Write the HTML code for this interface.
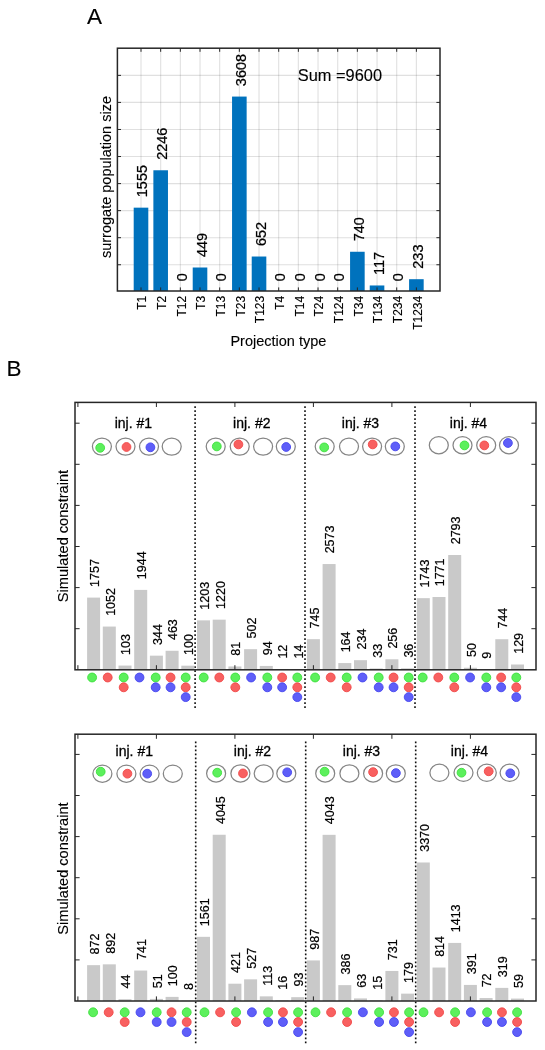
<!DOCTYPE html>
<html><head><meta charset="utf-8"><style>
html,body{margin:0;padding:0;background:#fff;}
body{width:545px;height:1050px;overflow:hidden;}
svg{display:block;will-change:transform;}
text{font-family:"Liberation Sans", sans-serif;fill:#000;stroke:#000;stroke-width:0.3px;}
text.lt{stroke-width:0.12px;}
text.md{stroke-width:0.22px;}
</style></head><body>
<svg width="545" height="1050" viewBox="0 0 545 1050">
<text x="87.00" y="24.30" font-size="22.5" text-anchor="start" class="lt">A</text>
<line x1="141.00" y1="48.20" x2="141.00" y2="291.00" stroke="#262626" stroke-width="1.1" stroke-opacity="0.14"/>
<line x1="160.67" y1="48.20" x2="160.67" y2="291.00" stroke="#262626" stroke-width="1.1" stroke-opacity="0.14"/>
<line x1="180.34" y1="48.20" x2="180.34" y2="291.00" stroke="#262626" stroke-width="1.1" stroke-opacity="0.14"/>
<line x1="200.01" y1="48.20" x2="200.01" y2="291.00" stroke="#262626" stroke-width="1.1" stroke-opacity="0.14"/>
<line x1="219.68" y1="48.20" x2="219.68" y2="291.00" stroke="#262626" stroke-width="1.1" stroke-opacity="0.14"/>
<line x1="239.35" y1="48.20" x2="239.35" y2="291.00" stroke="#262626" stroke-width="1.1" stroke-opacity="0.14"/>
<line x1="259.02" y1="48.20" x2="259.02" y2="291.00" stroke="#262626" stroke-width="1.1" stroke-opacity="0.14"/>
<line x1="278.69" y1="48.20" x2="278.69" y2="291.00" stroke="#262626" stroke-width="1.1" stroke-opacity="0.14"/>
<line x1="298.36" y1="48.20" x2="298.36" y2="291.00" stroke="#262626" stroke-width="1.1" stroke-opacity="0.14"/>
<line x1="318.03" y1="48.20" x2="318.03" y2="291.00" stroke="#262626" stroke-width="1.1" stroke-opacity="0.14"/>
<line x1="337.70" y1="48.20" x2="337.70" y2="291.00" stroke="#262626" stroke-width="1.1" stroke-opacity="0.14"/>
<line x1="357.37" y1="48.20" x2="357.37" y2="291.00" stroke="#262626" stroke-width="1.1" stroke-opacity="0.14"/>
<line x1="377.04" y1="48.20" x2="377.04" y2="291.00" stroke="#262626" stroke-width="1.1" stroke-opacity="0.14"/>
<line x1="396.71" y1="48.20" x2="396.71" y2="291.00" stroke="#262626" stroke-width="1.1" stroke-opacity="0.14"/>
<line x1="416.38" y1="48.20" x2="416.38" y2="291.00" stroke="#262626" stroke-width="1.1" stroke-opacity="0.14"/>
<line x1="117.40" y1="264.75" x2="440.00" y2="264.75" stroke="#262626" stroke-width="1.1" stroke-opacity="0.14"/>
<line x1="117.40" y1="237.69" x2="440.00" y2="237.69" stroke="#262626" stroke-width="1.1" stroke-opacity="0.14"/>
<line x1="117.40" y1="210.64" x2="440.00" y2="210.64" stroke="#262626" stroke-width="1.1" stroke-opacity="0.14"/>
<line x1="117.40" y1="183.58" x2="440.00" y2="183.58" stroke="#262626" stroke-width="1.1" stroke-opacity="0.14"/>
<line x1="117.40" y1="156.53" x2="440.00" y2="156.53" stroke="#262626" stroke-width="1.1" stroke-opacity="0.14"/>
<line x1="117.40" y1="129.47" x2="440.00" y2="129.47" stroke="#262626" stroke-width="1.1" stroke-opacity="0.14"/>
<line x1="117.40" y1="102.42" x2="440.00" y2="102.42" stroke="#262626" stroke-width="1.1" stroke-opacity="0.14"/>
<line x1="117.40" y1="75.36" x2="440.00" y2="75.36" stroke="#262626" stroke-width="1.1" stroke-opacity="0.14"/>
<rect x="133.70" y="207.66" width="14.60" height="83.34" fill="#0072BD"/>
<rect x="153.37" y="170.27" width="14.60" height="120.73" fill="#0072BD"/>
<rect x="192.71" y="267.50" width="14.60" height="23.50" fill="#0072BD"/>
<rect x="232.05" y="96.57" width="14.60" height="194.43" fill="#0072BD"/>
<rect x="251.72" y="256.52" width="14.60" height="34.48" fill="#0072BD"/>
<rect x="350.07" y="251.76" width="14.60" height="39.24" fill="#0072BD"/>
<rect x="369.74" y="285.47" width="14.60" height="5.53" fill="#0072BD"/>
<rect x="409.08" y="279.19" width="14.60" height="11.81" fill="#0072BD"/>
<line x1="141.00" y1="48.20" x2="141.00" y2="51.80" stroke="#262626" stroke-width="1" />
<line x1="141.00" y1="291.00" x2="141.00" y2="287.40" stroke="#262626" stroke-width="1" />
<line x1="160.67" y1="48.20" x2="160.67" y2="51.80" stroke="#262626" stroke-width="1" />
<line x1="160.67" y1="291.00" x2="160.67" y2="287.40" stroke="#262626" stroke-width="1" />
<line x1="180.34" y1="48.20" x2="180.34" y2="51.80" stroke="#262626" stroke-width="1" />
<line x1="180.34" y1="291.00" x2="180.34" y2="287.40" stroke="#262626" stroke-width="1" />
<line x1="200.01" y1="48.20" x2="200.01" y2="51.80" stroke="#262626" stroke-width="1" />
<line x1="200.01" y1="291.00" x2="200.01" y2="287.40" stroke="#262626" stroke-width="1" />
<line x1="219.68" y1="48.20" x2="219.68" y2="51.80" stroke="#262626" stroke-width="1" />
<line x1="219.68" y1="291.00" x2="219.68" y2="287.40" stroke="#262626" stroke-width="1" />
<line x1="239.35" y1="48.20" x2="239.35" y2="51.80" stroke="#262626" stroke-width="1" />
<line x1="239.35" y1="291.00" x2="239.35" y2="287.40" stroke="#262626" stroke-width="1" />
<line x1="259.02" y1="48.20" x2="259.02" y2="51.80" stroke="#262626" stroke-width="1" />
<line x1="259.02" y1="291.00" x2="259.02" y2="287.40" stroke="#262626" stroke-width="1" />
<line x1="278.69" y1="48.20" x2="278.69" y2="51.80" stroke="#262626" stroke-width="1" />
<line x1="278.69" y1="291.00" x2="278.69" y2="287.40" stroke="#262626" stroke-width="1" />
<line x1="298.36" y1="48.20" x2="298.36" y2="51.80" stroke="#262626" stroke-width="1" />
<line x1="298.36" y1="291.00" x2="298.36" y2="287.40" stroke="#262626" stroke-width="1" />
<line x1="318.03" y1="48.20" x2="318.03" y2="51.80" stroke="#262626" stroke-width="1" />
<line x1="318.03" y1="291.00" x2="318.03" y2="287.40" stroke="#262626" stroke-width="1" />
<line x1="337.70" y1="48.20" x2="337.70" y2="51.80" stroke="#262626" stroke-width="1" />
<line x1="337.70" y1="291.00" x2="337.70" y2="287.40" stroke="#262626" stroke-width="1" />
<line x1="357.37" y1="48.20" x2="357.37" y2="51.80" stroke="#262626" stroke-width="1" />
<line x1="357.37" y1="291.00" x2="357.37" y2="287.40" stroke="#262626" stroke-width="1" />
<line x1="377.04" y1="48.20" x2="377.04" y2="51.80" stroke="#262626" stroke-width="1" />
<line x1="377.04" y1="291.00" x2="377.04" y2="287.40" stroke="#262626" stroke-width="1" />
<line x1="396.71" y1="48.20" x2="396.71" y2="51.80" stroke="#262626" stroke-width="1" />
<line x1="396.71" y1="291.00" x2="396.71" y2="287.40" stroke="#262626" stroke-width="1" />
<line x1="416.38" y1="48.20" x2="416.38" y2="51.80" stroke="#262626" stroke-width="1" />
<line x1="416.38" y1="291.00" x2="416.38" y2="287.40" stroke="#262626" stroke-width="1" />
<line x1="117.40" y1="264.75" x2="121.00" y2="264.75" stroke="#262626" stroke-width="1" />
<line x1="440.00" y1="264.75" x2="436.40" y2="264.75" stroke="#262626" stroke-width="1" />
<line x1="117.40" y1="237.69" x2="121.00" y2="237.69" stroke="#262626" stroke-width="1" />
<line x1="440.00" y1="237.69" x2="436.40" y2="237.69" stroke="#262626" stroke-width="1" />
<line x1="117.40" y1="210.64" x2="121.00" y2="210.64" stroke="#262626" stroke-width="1" />
<line x1="440.00" y1="210.64" x2="436.40" y2="210.64" stroke="#262626" stroke-width="1" />
<line x1="117.40" y1="183.58" x2="121.00" y2="183.58" stroke="#262626" stroke-width="1" />
<line x1="440.00" y1="183.58" x2="436.40" y2="183.58" stroke="#262626" stroke-width="1" />
<line x1="117.40" y1="156.53" x2="121.00" y2="156.53" stroke="#262626" stroke-width="1" />
<line x1="440.00" y1="156.53" x2="436.40" y2="156.53" stroke="#262626" stroke-width="1" />
<line x1="117.40" y1="129.47" x2="121.00" y2="129.47" stroke="#262626" stroke-width="1" />
<line x1="440.00" y1="129.47" x2="436.40" y2="129.47" stroke="#262626" stroke-width="1" />
<line x1="117.40" y1="102.42" x2="121.00" y2="102.42" stroke="#262626" stroke-width="1" />
<line x1="440.00" y1="102.42" x2="436.40" y2="102.42" stroke="#262626" stroke-width="1" />
<line x1="117.40" y1="75.36" x2="121.00" y2="75.36" stroke="#262626" stroke-width="1" />
<line x1="440.00" y1="75.36" x2="436.40" y2="75.36" stroke="#262626" stroke-width="1" />
<rect x="117.40" y="48.20" width="322.60" height="242.80" fill="none" stroke="#262626" stroke-width="1.5"/>
<text x="147.50" y="197.21" font-size="14.5" text-anchor="start" transform="rotate(-90 147.50 197.21)" class="md">1555</text>
<text x="167.17" y="159.82" font-size="14.5" text-anchor="start" transform="rotate(-90 167.17 159.82)" class="md">2246</text>
<text x="186.84" y="281.35" font-size="14.5" text-anchor="start" transform="rotate(-90 186.84 281.35)" class="md">0</text>
<text x="206.51" y="257.05" font-size="14.5" text-anchor="start" transform="rotate(-90 206.51 257.05)" class="md">449</text>
<text x="226.18" y="281.35" font-size="14.5" text-anchor="start" transform="rotate(-90 226.18 281.35)" class="md">0</text>
<text x="245.85" y="86.12" font-size="14.5" text-anchor="start" transform="rotate(-90 245.85 86.12)" class="md">3608</text>
<text x="265.52" y="246.07" font-size="14.5" text-anchor="start" transform="rotate(-90 265.52 246.07)" class="md">652</text>
<text x="285.19" y="281.35" font-size="14.5" text-anchor="start" transform="rotate(-90 285.19 281.35)" class="md">0</text>
<text x="304.86" y="281.35" font-size="14.5" text-anchor="start" transform="rotate(-90 304.86 281.35)" class="md">0</text>
<text x="324.53" y="281.35" font-size="14.5" text-anchor="start" transform="rotate(-90 324.53 281.35)" class="md">0</text>
<text x="344.20" y="281.35" font-size="14.5" text-anchor="start" transform="rotate(-90 344.20 281.35)" class="md">0</text>
<text x="363.87" y="241.31" font-size="14.5" text-anchor="start" transform="rotate(-90 363.87 241.31)" class="md">740</text>
<text x="383.54" y="275.02" font-size="14.5" text-anchor="start" transform="rotate(-90 383.54 275.02)" class="md">117</text>
<text x="403.21" y="281.35" font-size="14.5" text-anchor="start" transform="rotate(-90 403.21 281.35)" class="md">0</text>
<text x="422.88" y="268.74" font-size="14.5" text-anchor="start" transform="rotate(-90 422.88 268.74)" class="md">233</text>
<text x="146.40" y="295.80" font-size="12" text-anchor="end" transform="rotate(-90 146.40 295.80)" class="lt">T1</text>
<text x="166.07" y="295.80" font-size="12" text-anchor="end" transform="rotate(-90 166.07 295.80)" class="lt">T2</text>
<text x="185.74" y="295.80" font-size="12" text-anchor="end" transform="rotate(-90 185.74 295.80)" class="lt">T12</text>
<text x="205.41" y="295.80" font-size="12" text-anchor="end" transform="rotate(-90 205.41 295.80)" class="lt">T3</text>
<text x="225.08" y="295.80" font-size="12" text-anchor="end" transform="rotate(-90 225.08 295.80)" class="lt">T13</text>
<text x="244.75" y="295.80" font-size="12" text-anchor="end" transform="rotate(-90 244.75 295.80)" class="lt">T23</text>
<text x="264.42" y="295.80" font-size="12" text-anchor="end" transform="rotate(-90 264.42 295.80)" class="lt">T123</text>
<text x="284.09" y="295.80" font-size="12" text-anchor="end" transform="rotate(-90 284.09 295.80)" class="lt">T4</text>
<text x="303.76" y="295.80" font-size="12" text-anchor="end" transform="rotate(-90 303.76 295.80)" class="lt">T14</text>
<text x="323.43" y="295.80" font-size="12" text-anchor="end" transform="rotate(-90 323.43 295.80)" class="lt">T24</text>
<text x="343.10" y="295.80" font-size="12" text-anchor="end" transform="rotate(-90 343.10 295.80)" class="lt">T124</text>
<text x="362.77" y="295.80" font-size="12" text-anchor="end" transform="rotate(-90 362.77 295.80)" class="lt">T34</text>
<text x="382.44" y="295.80" font-size="12" text-anchor="end" transform="rotate(-90 382.44 295.80)" class="lt">T134</text>
<text x="402.11" y="295.80" font-size="12" text-anchor="end" transform="rotate(-90 402.11 295.80)" class="lt">T234</text>
<text x="421.78" y="295.80" font-size="12" text-anchor="end" transform="rotate(-90 421.78 295.80)" class="lt">T1234</text>
<text x="278.40" y="346.40" font-size="14.5" text-anchor="middle" class="lt">Projection type</text>
<text x="111.30" y="177.00" font-size="14.5" text-anchor="middle" transform="rotate(-90 111.30 177.00)" class="lt">surrogate population size</text>
<text x="297.80" y="80.60" font-size="16.4" text-anchor="start" class="lt">Sum =9600</text>
<text x="6.60" y="376.00" font-size="22.5" text-anchor="start" class="lt">B</text>
<line x1="195.1" y1="406.20" x2="195.1" y2="710.00" stroke="#111" stroke-width="1.6" stroke-dasharray="1.8 2.2"/>
<line x1="305.0" y1="406.20" x2="305.0" y2="710.00" stroke="#111" stroke-width="1.6" stroke-dasharray="1.8 2.2"/>
<line x1="415.0" y1="406.20" x2="415.0" y2="710.00" stroke="#111" stroke-width="1.6" stroke-dasharray="1.8 2.2"/>
<rect x="87.10" y="597.59" width="13.00" height="72.21" fill="#c9c9c9"/>
<rect x="102.80" y="626.56" width="13.00" height="43.24" fill="#c9c9c9"/>
<rect x="118.50" y="665.57" width="13.00" height="4.23" fill="#c9c9c9"/>
<rect x="134.20" y="589.90" width="13.00" height="79.90" fill="#c9c9c9"/>
<rect x="149.90" y="655.66" width="13.00" height="14.14" fill="#c9c9c9"/>
<rect x="165.60" y="650.77" width="13.00" height="19.03" fill="#c9c9c9"/>
<rect x="181.30" y="665.69" width="13.00" height="4.11" fill="#c9c9c9"/>
<rect x="197.00" y="620.36" width="13.00" height="49.44" fill="#c9c9c9"/>
<rect x="212.70" y="619.66" width="13.00" height="50.14" fill="#c9c9c9"/>
<rect x="228.40" y="666.47" width="13.00" height="3.33" fill="#c9c9c9"/>
<rect x="244.10" y="649.17" width="13.00" height="20.63" fill="#c9c9c9"/>
<rect x="259.80" y="665.94" width="13.00" height="3.86" fill="#c9c9c9"/>
<rect x="275.50" y="669.31" width="13.00" height="0.49" fill="#c9c9c9"/>
<rect x="291.20" y="669.22" width="13.00" height="0.58" fill="#c9c9c9"/>
<rect x="306.90" y="639.18" width="13.00" height="30.62" fill="#c9c9c9"/>
<rect x="322.60" y="564.05" width="13.00" height="105.75" fill="#c9c9c9"/>
<rect x="338.30" y="663.06" width="13.00" height="6.74" fill="#c9c9c9"/>
<rect x="354.00" y="660.18" width="13.00" height="9.62" fill="#c9c9c9"/>
<rect x="369.70" y="668.44" width="13.00" height="1.36" fill="#c9c9c9"/>
<rect x="385.40" y="659.28" width="13.00" height="10.52" fill="#c9c9c9"/>
<rect x="401.10" y="668.32" width="13.00" height="1.48" fill="#c9c9c9"/>
<rect x="416.80" y="598.16" width="13.00" height="71.64" fill="#c9c9c9"/>
<rect x="432.50" y="597.01" width="13.00" height="72.79" fill="#c9c9c9"/>
<rect x="448.20" y="555.01" width="13.00" height="114.79" fill="#c9c9c9"/>
<rect x="463.90" y="667.75" width="13.00" height="2.05" fill="#c9c9c9"/>
<rect x="479.60" y="669.43" width="13.00" height="0.37" fill="#c9c9c9"/>
<rect x="495.30" y="639.22" width="13.00" height="30.58" fill="#c9c9c9"/>
<rect x="511.00" y="664.50" width="13.00" height="5.30" fill="#c9c9c9"/>
<line x1="77.90" y1="402.40" x2="77.90" y2="407.00" stroke="#262626" stroke-width="1" />
<line x1="77.90" y1="669.80" x2="77.90" y2="665.20" stroke="#262626" stroke-width="1" />
<line x1="156.40" y1="402.40" x2="156.40" y2="407.00" stroke="#262626" stroke-width="1" />
<line x1="156.40" y1="669.80" x2="156.40" y2="665.20" stroke="#262626" stroke-width="1" />
<line x1="234.90" y1="402.40" x2="234.90" y2="407.00" stroke="#262626" stroke-width="1" />
<line x1="234.90" y1="669.80" x2="234.90" y2="665.20" stroke="#262626" stroke-width="1" />
<line x1="313.40" y1="402.40" x2="313.40" y2="407.00" stroke="#262626" stroke-width="1" />
<line x1="313.40" y1="669.80" x2="313.40" y2="665.20" stroke="#262626" stroke-width="1" />
<line x1="391.90" y1="402.40" x2="391.90" y2="407.00" stroke="#262626" stroke-width="1" />
<line x1="391.90" y1="669.80" x2="391.90" y2="665.20" stroke="#262626" stroke-width="1" />
<line x1="470.40" y1="402.40" x2="470.40" y2="407.00" stroke="#262626" stroke-width="1" />
<line x1="470.40" y1="669.80" x2="470.40" y2="665.20" stroke="#262626" stroke-width="1" />
<line x1="75.00" y1="628.70" x2="79.60" y2="628.70" stroke="#262626" stroke-width="1" />
<line x1="536.00" y1="628.70" x2="531.40" y2="628.70" stroke="#262626" stroke-width="1" />
<line x1="75.00" y1="587.60" x2="79.60" y2="587.60" stroke="#262626" stroke-width="1" />
<line x1="536.00" y1="587.60" x2="531.40" y2="587.60" stroke="#262626" stroke-width="1" />
<line x1="75.00" y1="546.50" x2="79.60" y2="546.50" stroke="#262626" stroke-width="1" />
<line x1="536.00" y1="546.50" x2="531.40" y2="546.50" stroke="#262626" stroke-width="1" />
<line x1="75.00" y1="505.40" x2="79.60" y2="505.40" stroke="#262626" stroke-width="1" />
<line x1="536.00" y1="505.40" x2="531.40" y2="505.40" stroke="#262626" stroke-width="1" />
<line x1="75.00" y1="464.30" x2="79.60" y2="464.30" stroke="#262626" stroke-width="1" />
<line x1="536.00" y1="464.30" x2="531.40" y2="464.30" stroke="#262626" stroke-width="1" />
<line x1="75.00" y1="423.20" x2="79.60" y2="423.20" stroke="#262626" stroke-width="1" />
<line x1="536.00" y1="423.20" x2="531.40" y2="423.20" stroke="#262626" stroke-width="1" />
<rect x="75.00" y="402.40" width="461.00" height="267.40" fill="none" stroke="#262626" stroke-width="1.5"/>
<text x="99.00" y="586.89" font-size="12.5" text-anchor="start" transform="rotate(-90 99.00 586.89)" class="md">1757</text>
<text x="114.70" y="615.86" font-size="12.5" text-anchor="start" transform="rotate(-90 114.70 615.86)" class="md">1052</text>
<text x="130.40" y="654.87" font-size="12.5" text-anchor="start" transform="rotate(-90 130.40 654.87)" class="md">103</text>
<text x="146.10" y="579.20" font-size="12.5" text-anchor="start" transform="rotate(-90 146.10 579.20)" class="md">1944</text>
<text x="161.80" y="644.96" font-size="12.5" text-anchor="start" transform="rotate(-90 161.80 644.96)" class="md">344</text>
<text x="177.50" y="640.07" font-size="12.5" text-anchor="start" transform="rotate(-90 177.50 640.07)" class="md">463</text>
<text x="193.20" y="654.99" font-size="12.5" text-anchor="start" transform="rotate(-90 193.20 654.99)" class="md">100</text>
<text x="208.90" y="609.66" font-size="12.5" text-anchor="start" transform="rotate(-90 208.90 609.66)" class="md">1203</text>
<text x="224.60" y="608.96" font-size="12.5" text-anchor="start" transform="rotate(-90 224.60 608.96)" class="md">1220</text>
<text x="240.30" y="655.77" font-size="12.5" text-anchor="start" transform="rotate(-90 240.30 655.77)" class="md">81</text>
<text x="256.00" y="638.47" font-size="12.5" text-anchor="start" transform="rotate(-90 256.00 638.47)" class="md">502</text>
<text x="271.70" y="655.24" font-size="12.5" text-anchor="start" transform="rotate(-90 271.70 655.24)" class="md">94</text>
<text x="287.40" y="658.61" font-size="12.5" text-anchor="start" transform="rotate(-90 287.40 658.61)" class="md">12</text>
<text x="303.10" y="658.52" font-size="12.5" text-anchor="start" transform="rotate(-90 303.10 658.52)" class="md">14</text>
<text x="318.80" y="628.48" font-size="12.5" text-anchor="start" transform="rotate(-90 318.80 628.48)" class="md">745</text>
<text x="334.50" y="553.35" font-size="12.5" text-anchor="start" transform="rotate(-90 334.50 553.35)" class="md">2573</text>
<text x="350.20" y="652.36" font-size="12.5" text-anchor="start" transform="rotate(-90 350.20 652.36)" class="md">164</text>
<text x="365.90" y="649.48" font-size="12.5" text-anchor="start" transform="rotate(-90 365.90 649.48)" class="md">234</text>
<text x="381.60" y="657.74" font-size="12.5" text-anchor="start" transform="rotate(-90 381.60 657.74)" class="md">33</text>
<text x="397.30" y="648.58" font-size="12.5" text-anchor="start" transform="rotate(-90 397.30 648.58)" class="md">256</text>
<text x="413.00" y="657.62" font-size="12.5" text-anchor="start" transform="rotate(-90 413.00 657.62)" class="md">36</text>
<text x="428.70" y="587.46" font-size="12.5" text-anchor="start" transform="rotate(-90 428.70 587.46)" class="md">1743</text>
<text x="444.40" y="586.31" font-size="12.5" text-anchor="start" transform="rotate(-90 444.40 586.31)" class="md">1771</text>
<text x="460.10" y="544.31" font-size="12.5" text-anchor="start" transform="rotate(-90 460.10 544.31)" class="md">2793</text>
<text x="475.80" y="657.04" font-size="12.5" text-anchor="start" transform="rotate(-90 475.80 657.04)" class="md">50</text>
<text x="491.50" y="658.73" font-size="12.5" text-anchor="start" transform="rotate(-90 491.50 658.73)" class="md">9</text>
<text x="507.20" y="628.52" font-size="12.5" text-anchor="start" transform="rotate(-90 507.20 628.52)" class="md">744</text>
<text x="522.90" y="653.80" font-size="12.5" text-anchor="start" transform="rotate(-90 522.90 653.80)" class="md">129</text>
<text x="114.70" y="427.70" font-size="14.0" text-anchor="start" >inj. #1</text>
<text x="233.10" y="427.70" font-size="14.0" text-anchor="start" >inj. #2</text>
<text x="341.80" y="427.70" font-size="14.0" text-anchor="start" >inj. #3</text>
<text x="449.80" y="427.70" font-size="14.0" text-anchor="start" >inj. #4</text>
<ellipse cx="101.90" cy="446.60" rx="9.5" ry="8.6" fill="none" stroke="#858585" stroke-width="1.25"/>
<circle cx="100.20" cy="447.80" r="4.4" fill="#5cf05c" stroke="#3ce03c" stroke-width="0.9"/>
<ellipse cx="125.50" cy="446.60" rx="9.5" ry="8.6" fill="none" stroke="#858585" stroke-width="1.25"/>
<circle cx="126.50" cy="447.00" r="4.4" fill="#f86060" stroke="#f04848" stroke-width="0.9"/>
<ellipse cx="149.00" cy="446.60" rx="9.5" ry="8.6" fill="none" stroke="#858585" stroke-width="1.25"/>
<circle cx="150.40" cy="447.30" r="4.4" fill="#5e5ef8" stroke="#4646ee" stroke-width="0.9"/>
<ellipse cx="171.70" cy="446.60" rx="9.5" ry="8.6" fill="none" stroke="#858585" stroke-width="1.25"/>
<ellipse cx="215.70" cy="446.60" rx="9.5" ry="8.6" fill="none" stroke="#858585" stroke-width="1.25"/>
<circle cx="216.80" cy="446.40" r="4.4" fill="#5cf05c" stroke="#3ce03c" stroke-width="0.9"/>
<ellipse cx="239.70" cy="446.60" rx="9.5" ry="8.6" fill="none" stroke="#858585" stroke-width="1.25"/>
<circle cx="238.40" cy="444.40" r="4.4" fill="#f86060" stroke="#f04848" stroke-width="0.9"/>
<ellipse cx="263.10" cy="446.60" rx="9.5" ry="8.6" fill="none" stroke="#858585" stroke-width="1.25"/>
<ellipse cx="285.80" cy="446.60" rx="9.5" ry="8.6" fill="none" stroke="#858585" stroke-width="1.25"/>
<circle cx="286.20" cy="447.00" r="4.4" fill="#5e5ef8" stroke="#4646ee" stroke-width="0.9"/>
<ellipse cx="324.70" cy="446.60" rx="9.5" ry="8.6" fill="none" stroke="#858585" stroke-width="1.25"/>
<circle cx="324.20" cy="447.40" r="4.4" fill="#5cf05c" stroke="#3ce03c" stroke-width="0.9"/>
<ellipse cx="349.00" cy="446.60" rx="9.5" ry="8.6" fill="none" stroke="#858585" stroke-width="1.25"/>
<ellipse cx="372.10" cy="446.60" rx="9.5" ry="8.6" fill="none" stroke="#858585" stroke-width="1.25"/>
<circle cx="372.70" cy="444.40" r="4.4" fill="#f86060" stroke="#f04848" stroke-width="0.9"/>
<ellipse cx="394.80" cy="446.60" rx="9.5" ry="8.6" fill="none" stroke="#858585" stroke-width="1.25"/>
<circle cx="395.30" cy="446.40" r="4.4" fill="#5e5ef8" stroke="#4646ee" stroke-width="0.9"/>
<ellipse cx="438.80" cy="445.20" rx="9.5" ry="8.6" fill="none" stroke="#858585" stroke-width="1.25"/>
<ellipse cx="462.50" cy="445.20" rx="9.5" ry="8.6" fill="none" stroke="#858585" stroke-width="1.25"/>
<circle cx="464.50" cy="445.40" r="4.4" fill="#5cf05c" stroke="#3ce03c" stroke-width="0.9"/>
<ellipse cx="486.20" cy="445.20" rx="9.5" ry="8.6" fill="none" stroke="#858585" stroke-width="1.25"/>
<circle cx="484.30" cy="445.40" r="4.4" fill="#f86060" stroke="#f04848" stroke-width="0.9"/>
<ellipse cx="509.00" cy="445.20" rx="9.5" ry="8.6" fill="none" stroke="#858585" stroke-width="1.25"/>
<circle cx="507.90" cy="443.00" r="4.4" fill="#5e5ef8" stroke="#4646ee" stroke-width="0.9"/>
<circle cx="92.10" cy="677.50" r="4.45" fill="#5cf05c" stroke="#3ce03c" stroke-width="0.9"/>
<circle cx="107.70" cy="677.50" r="4.45" fill="#f86060" stroke="#f04848" stroke-width="0.9"/>
<circle cx="123.70" cy="677.50" r="4.45" fill="#5cf05c" stroke="#3ce03c" stroke-width="0.9"/>
<circle cx="123.70" cy="687.30" r="4.45" fill="#f86060" stroke="#f04848" stroke-width="0.9"/>
<circle cx="139.50" cy="677.50" r="4.45" fill="#5e5ef8" stroke="#4646ee" stroke-width="0.9"/>
<circle cx="155.70" cy="677.50" r="4.45" fill="#5cf05c" stroke="#3ce03c" stroke-width="0.9"/>
<circle cx="155.70" cy="687.30" r="4.45" fill="#5e5ef8" stroke="#4646ee" stroke-width="0.9"/>
<circle cx="170.55" cy="677.50" r="4.45" fill="#f86060" stroke="#f04848" stroke-width="0.9"/>
<circle cx="170.55" cy="687.30" r="4.45" fill="#5e5ef8" stroke="#4646ee" stroke-width="0.9"/>
<circle cx="185.70" cy="677.50" r="4.45" fill="#5cf05c" stroke="#3ce03c" stroke-width="0.9"/>
<circle cx="185.70" cy="687.30" r="4.45" fill="#f86060" stroke="#f04848" stroke-width="0.9"/>
<circle cx="185.70" cy="697.10" r="4.45" fill="#5e5ef8" stroke="#4646ee" stroke-width="0.9"/>
<circle cx="203.70" cy="677.50" r="4.45" fill="#5cf05c" stroke="#3ce03c" stroke-width="0.9"/>
<circle cx="219.30" cy="677.50" r="4.45" fill="#f86060" stroke="#f04848" stroke-width="0.9"/>
<circle cx="235.30" cy="677.50" r="4.45" fill="#5cf05c" stroke="#3ce03c" stroke-width="0.9"/>
<circle cx="235.30" cy="687.30" r="4.45" fill="#f86060" stroke="#f04848" stroke-width="0.9"/>
<circle cx="251.10" cy="677.50" r="4.45" fill="#5e5ef8" stroke="#4646ee" stroke-width="0.9"/>
<circle cx="267.30" cy="677.50" r="4.45" fill="#5cf05c" stroke="#3ce03c" stroke-width="0.9"/>
<circle cx="267.30" cy="687.30" r="4.45" fill="#5e5ef8" stroke="#4646ee" stroke-width="0.9"/>
<circle cx="282.15" cy="677.50" r="4.45" fill="#f86060" stroke="#f04848" stroke-width="0.9"/>
<circle cx="282.15" cy="687.30" r="4.45" fill="#5e5ef8" stroke="#4646ee" stroke-width="0.9"/>
<circle cx="297.30" cy="677.50" r="4.45" fill="#5cf05c" stroke="#3ce03c" stroke-width="0.9"/>
<circle cx="297.30" cy="687.30" r="4.45" fill="#f86060" stroke="#f04848" stroke-width="0.9"/>
<circle cx="297.30" cy="697.10" r="4.45" fill="#5e5ef8" stroke="#4646ee" stroke-width="0.9"/>
<circle cx="315.10" cy="677.50" r="4.45" fill="#5cf05c" stroke="#3ce03c" stroke-width="0.9"/>
<circle cx="330.70" cy="677.50" r="4.45" fill="#f86060" stroke="#f04848" stroke-width="0.9"/>
<circle cx="346.70" cy="677.50" r="4.45" fill="#5cf05c" stroke="#3ce03c" stroke-width="0.9"/>
<circle cx="346.70" cy="687.30" r="4.45" fill="#f86060" stroke="#f04848" stroke-width="0.9"/>
<circle cx="362.50" cy="677.50" r="4.45" fill="#5e5ef8" stroke="#4646ee" stroke-width="0.9"/>
<circle cx="378.70" cy="677.50" r="4.45" fill="#5cf05c" stroke="#3ce03c" stroke-width="0.9"/>
<circle cx="378.70" cy="687.30" r="4.45" fill="#5e5ef8" stroke="#4646ee" stroke-width="0.9"/>
<circle cx="393.55" cy="677.50" r="4.45" fill="#f86060" stroke="#f04848" stroke-width="0.9"/>
<circle cx="393.55" cy="687.30" r="4.45" fill="#5e5ef8" stroke="#4646ee" stroke-width="0.9"/>
<circle cx="408.70" cy="677.50" r="4.45" fill="#5cf05c" stroke="#3ce03c" stroke-width="0.9"/>
<circle cx="408.70" cy="687.30" r="4.45" fill="#f86060" stroke="#f04848" stroke-width="0.9"/>
<circle cx="408.70" cy="697.10" r="4.45" fill="#5e5ef8" stroke="#4646ee" stroke-width="0.9"/>
<circle cx="422.70" cy="677.50" r="4.45" fill="#5cf05c" stroke="#3ce03c" stroke-width="0.9"/>
<circle cx="438.30" cy="677.50" r="4.45" fill="#f86060" stroke="#f04848" stroke-width="0.9"/>
<circle cx="454.30" cy="677.50" r="4.45" fill="#5cf05c" stroke="#3ce03c" stroke-width="0.9"/>
<circle cx="454.30" cy="687.30" r="4.45" fill="#f86060" stroke="#f04848" stroke-width="0.9"/>
<circle cx="470.10" cy="677.50" r="4.45" fill="#5e5ef8" stroke="#4646ee" stroke-width="0.9"/>
<circle cx="486.30" cy="677.50" r="4.45" fill="#5cf05c" stroke="#3ce03c" stroke-width="0.9"/>
<circle cx="486.30" cy="687.30" r="4.45" fill="#5e5ef8" stroke="#4646ee" stroke-width="0.9"/>
<circle cx="501.15" cy="677.50" r="4.45" fill="#f86060" stroke="#f04848" stroke-width="0.9"/>
<circle cx="501.15" cy="687.30" r="4.45" fill="#5e5ef8" stroke="#4646ee" stroke-width="0.9"/>
<circle cx="516.30" cy="677.50" r="4.45" fill="#5cf05c" stroke="#3ce03c" stroke-width="0.9"/>
<circle cx="516.30" cy="687.30" r="4.45" fill="#f86060" stroke="#f04848" stroke-width="0.9"/>
<circle cx="516.30" cy="697.10" r="4.45" fill="#5e5ef8" stroke="#4646ee" stroke-width="0.9"/>
<text x="67.80" y="536.00" font-size="14.6" text-anchor="middle" transform="rotate(-90 67.80 536.00)" class="lt">Simulated constraint</text>
<line x1="195.7" y1="741.40" x2="195.7" y2="1043.80" stroke="#111" stroke-width="1.6" stroke-dasharray="1.8 2.2"/>
<line x1="305.7" y1="741.40" x2="305.7" y2="1043.80" stroke="#111" stroke-width="1.6" stroke-dasharray="1.8 2.2"/>
<line x1="415.7" y1="741.40" x2="415.7" y2="1043.80" stroke="#111" stroke-width="1.6" stroke-dasharray="1.8 2.2"/>
<rect x="87.10" y="965.16" width="13.00" height="35.84" fill="#c9c9c9"/>
<rect x="102.80" y="964.34" width="13.00" height="36.66" fill="#c9c9c9"/>
<rect x="118.50" y="999.19" width="13.00" height="1.81" fill="#c9c9c9"/>
<rect x="134.20" y="970.54" width="13.00" height="30.46" fill="#c9c9c9"/>
<rect x="149.90" y="998.90" width="13.00" height="2.10" fill="#c9c9c9"/>
<rect x="165.60" y="996.89" width="13.00" height="4.11" fill="#c9c9c9"/>
<rect x="181.30" y="1000.67" width="13.00" height="0.33" fill="#c9c9c9"/>
<rect x="197.00" y="936.84" width="13.00" height="64.16" fill="#c9c9c9"/>
<rect x="212.70" y="834.75" width="13.00" height="166.25" fill="#c9c9c9"/>
<rect x="228.40" y="983.70" width="13.00" height="17.30" fill="#c9c9c9"/>
<rect x="244.10" y="979.34" width="13.00" height="21.66" fill="#c9c9c9"/>
<rect x="259.80" y="996.36" width="13.00" height="4.64" fill="#c9c9c9"/>
<rect x="275.50" y="1000.34" width="13.00" height="0.66" fill="#c9c9c9"/>
<rect x="291.20" y="997.18" width="13.00" height="3.82" fill="#c9c9c9"/>
<rect x="306.90" y="960.43" width="13.00" height="40.57" fill="#c9c9c9"/>
<rect x="322.60" y="834.83" width="13.00" height="166.17" fill="#c9c9c9"/>
<rect x="338.30" y="985.14" width="13.00" height="15.86" fill="#c9c9c9"/>
<rect x="354.00" y="998.41" width="13.00" height="2.59" fill="#c9c9c9"/>
<rect x="369.70" y="1000.38" width="13.00" height="0.62" fill="#c9c9c9"/>
<rect x="385.40" y="970.96" width="13.00" height="30.04" fill="#c9c9c9"/>
<rect x="401.10" y="993.64" width="13.00" height="7.36" fill="#c9c9c9"/>
<rect x="416.80" y="862.49" width="13.00" height="138.51" fill="#c9c9c9"/>
<rect x="432.50" y="967.54" width="13.00" height="33.46" fill="#c9c9c9"/>
<rect x="448.20" y="942.93" width="13.00" height="58.07" fill="#c9c9c9"/>
<rect x="463.90" y="984.93" width="13.00" height="16.07" fill="#c9c9c9"/>
<rect x="479.60" y="998.04" width="13.00" height="2.96" fill="#c9c9c9"/>
<rect x="495.30" y="987.89" width="13.00" height="13.11" fill="#c9c9c9"/>
<rect x="511.00" y="998.58" width="13.00" height="2.42" fill="#c9c9c9"/>
<line x1="77.90" y1="734.20" x2="77.90" y2="738.80" stroke="#262626" stroke-width="1" />
<line x1="77.90" y1="1001.00" x2="77.90" y2="996.40" stroke="#262626" stroke-width="1" />
<line x1="156.40" y1="734.20" x2="156.40" y2="738.80" stroke="#262626" stroke-width="1" />
<line x1="156.40" y1="1001.00" x2="156.40" y2="996.40" stroke="#262626" stroke-width="1" />
<line x1="234.90" y1="734.20" x2="234.90" y2="738.80" stroke="#262626" stroke-width="1" />
<line x1="234.90" y1="1001.00" x2="234.90" y2="996.40" stroke="#262626" stroke-width="1" />
<line x1="313.40" y1="734.20" x2="313.40" y2="738.80" stroke="#262626" stroke-width="1" />
<line x1="313.40" y1="1001.00" x2="313.40" y2="996.40" stroke="#262626" stroke-width="1" />
<line x1="391.90" y1="734.20" x2="391.90" y2="738.80" stroke="#262626" stroke-width="1" />
<line x1="391.90" y1="1001.00" x2="391.90" y2="996.40" stroke="#262626" stroke-width="1" />
<line x1="470.40" y1="734.20" x2="470.40" y2="738.80" stroke="#262626" stroke-width="1" />
<line x1="470.40" y1="1001.00" x2="470.40" y2="996.40" stroke="#262626" stroke-width="1" />
<line x1="75.00" y1="959.90" x2="79.60" y2="959.90" stroke="#262626" stroke-width="1" />
<line x1="536.00" y1="959.90" x2="531.40" y2="959.90" stroke="#262626" stroke-width="1" />
<line x1="75.00" y1="918.80" x2="79.60" y2="918.80" stroke="#262626" stroke-width="1" />
<line x1="536.00" y1="918.80" x2="531.40" y2="918.80" stroke="#262626" stroke-width="1" />
<line x1="75.00" y1="877.70" x2="79.60" y2="877.70" stroke="#262626" stroke-width="1" />
<line x1="536.00" y1="877.70" x2="531.40" y2="877.70" stroke="#262626" stroke-width="1" />
<line x1="75.00" y1="836.60" x2="79.60" y2="836.60" stroke="#262626" stroke-width="1" />
<line x1="536.00" y1="836.60" x2="531.40" y2="836.60" stroke="#262626" stroke-width="1" />
<line x1="75.00" y1="795.50" x2="79.60" y2="795.50" stroke="#262626" stroke-width="1" />
<line x1="536.00" y1="795.50" x2="531.40" y2="795.50" stroke="#262626" stroke-width="1" />
<line x1="75.00" y1="754.40" x2="79.60" y2="754.40" stroke="#262626" stroke-width="1" />
<line x1="536.00" y1="754.40" x2="531.40" y2="754.40" stroke="#262626" stroke-width="1" />
<rect x="75.00" y="734.20" width="461.00" height="266.80" fill="none" stroke="#262626" stroke-width="1.5"/>
<text x="99.00" y="954.46" font-size="12.5" text-anchor="start" transform="rotate(-90 99.00 954.46)" class="md">872</text>
<text x="114.70" y="953.64" font-size="12.5" text-anchor="start" transform="rotate(-90 114.70 953.64)" class="md">892</text>
<text x="130.40" y="988.49" font-size="12.5" text-anchor="start" transform="rotate(-90 130.40 988.49)" class="md">44</text>
<text x="146.10" y="959.84" font-size="12.5" text-anchor="start" transform="rotate(-90 146.10 959.84)" class="md">741</text>
<text x="161.80" y="988.20" font-size="12.5" text-anchor="start" transform="rotate(-90 161.80 988.20)" class="md">51</text>
<text x="177.50" y="986.19" font-size="12.5" text-anchor="start" transform="rotate(-90 177.50 986.19)" class="md">100</text>
<text x="193.20" y="989.97" font-size="12.5" text-anchor="start" transform="rotate(-90 193.20 989.97)" class="md">8</text>
<text x="208.90" y="926.14" font-size="12.5" text-anchor="start" transform="rotate(-90 208.90 926.14)" class="md">1561</text>
<text x="224.60" y="824.05" font-size="12.5" text-anchor="start" transform="rotate(-90 224.60 824.05)" class="md">4045</text>
<text x="240.30" y="973.00" font-size="12.5" text-anchor="start" transform="rotate(-90 240.30 973.00)" class="md">421</text>
<text x="256.00" y="968.64" font-size="12.5" text-anchor="start" transform="rotate(-90 256.00 968.64)" class="md">527</text>
<text x="271.70" y="985.66" font-size="12.5" text-anchor="start" transform="rotate(-90 271.70 985.66)" class="md">113</text>
<text x="287.40" y="989.64" font-size="12.5" text-anchor="start" transform="rotate(-90 287.40 989.64)" class="md">16</text>
<text x="303.10" y="986.48" font-size="12.5" text-anchor="start" transform="rotate(-90 303.10 986.48)" class="md">93</text>
<text x="318.80" y="949.73" font-size="12.5" text-anchor="start" transform="rotate(-90 318.80 949.73)" class="md">987</text>
<text x="334.50" y="824.13" font-size="12.5" text-anchor="start" transform="rotate(-90 334.50 824.13)" class="md">4043</text>
<text x="350.20" y="974.44" font-size="12.5" text-anchor="start" transform="rotate(-90 350.20 974.44)" class="md">386</text>
<text x="365.90" y="987.71" font-size="12.5" text-anchor="start" transform="rotate(-90 365.90 987.71)" class="md">63</text>
<text x="381.60" y="989.68" font-size="12.5" text-anchor="start" transform="rotate(-90 381.60 989.68)" class="md">15</text>
<text x="397.30" y="960.26" font-size="12.5" text-anchor="start" transform="rotate(-90 397.30 960.26)" class="md">731</text>
<text x="413.00" y="982.94" font-size="12.5" text-anchor="start" transform="rotate(-90 413.00 982.94)" class="md">179</text>
<text x="428.70" y="851.79" font-size="12.5" text-anchor="start" transform="rotate(-90 428.70 851.79)" class="md">3370</text>
<text x="444.40" y="956.84" font-size="12.5" text-anchor="start" transform="rotate(-90 444.40 956.84)" class="md">814</text>
<text x="460.10" y="932.23" font-size="12.5" text-anchor="start" transform="rotate(-90 460.10 932.23)" class="md">1413</text>
<text x="475.80" y="974.23" font-size="12.5" text-anchor="start" transform="rotate(-90 475.80 974.23)" class="md">391</text>
<text x="491.50" y="987.34" font-size="12.5" text-anchor="start" transform="rotate(-90 491.50 987.34)" class="md">72</text>
<text x="507.20" y="977.19" font-size="12.5" text-anchor="start" transform="rotate(-90 507.20 977.19)" class="md">319</text>
<text x="522.90" y="987.88" font-size="12.5" text-anchor="start" transform="rotate(-90 522.90 987.88)" class="md">59</text>
<text x="115.60" y="755.80" font-size="14.0" text-anchor="start" >inj. #1</text>
<text x="233.80" y="755.80" font-size="14.0" text-anchor="start" >inj. #2</text>
<text x="342.80" y="755.80" font-size="14.0" text-anchor="start" >inj. #3</text>
<text x="450.80" y="755.80" font-size="14.0" text-anchor="start" >inj. #4</text>
<ellipse cx="102.40" cy="773.70" rx="9.5" ry="8.6" fill="none" stroke="#858585" stroke-width="1.25"/>
<circle cx="100.70" cy="771.70" r="4.4" fill="#5cf05c" stroke="#3ce03c" stroke-width="0.9"/>
<ellipse cx="126.40" cy="773.70" rx="9.5" ry="8.6" fill="none" stroke="#858585" stroke-width="1.25"/>
<circle cx="127.40" cy="773.70" r="4.4" fill="#f86060" stroke="#f04848" stroke-width="0.9"/>
<ellipse cx="149.60" cy="773.70" rx="9.5" ry="8.6" fill="none" stroke="#858585" stroke-width="1.25"/>
<circle cx="147.20" cy="773.70" r="4.4" fill="#5e5ef8" stroke="#4646ee" stroke-width="0.9"/>
<ellipse cx="172.80" cy="773.70" rx="9.5" ry="8.6" fill="none" stroke="#858585" stroke-width="1.25"/>
<ellipse cx="216.10" cy="773.40" rx="9.5" ry="8.6" fill="none" stroke="#858585" stroke-width="1.25"/>
<circle cx="217.20" cy="772.70" r="4.4" fill="#5cf05c" stroke="#3ce03c" stroke-width="0.9"/>
<ellipse cx="240.40" cy="773.40" rx="9.5" ry="8.6" fill="none" stroke="#858585" stroke-width="1.25"/>
<circle cx="243.00" cy="773.40" r="4.4" fill="#f86060" stroke="#f04848" stroke-width="0.9"/>
<ellipse cx="263.70" cy="773.40" rx="9.5" ry="8.6" fill="none" stroke="#858585" stroke-width="1.25"/>
<ellipse cx="286.30" cy="773.40" rx="9.5" ry="8.6" fill="none" stroke="#858585" stroke-width="1.25"/>
<circle cx="287.20" cy="772.30" r="4.4" fill="#5e5ef8" stroke="#4646ee" stroke-width="0.9"/>
<ellipse cx="325.20" cy="773.40" rx="9.5" ry="8.6" fill="none" stroke="#858585" stroke-width="1.25"/>
<circle cx="324.60" cy="771.70" r="4.4" fill="#5cf05c" stroke="#3ce03c" stroke-width="0.9"/>
<ellipse cx="349.40" cy="773.40" rx="9.5" ry="8.6" fill="none" stroke="#858585" stroke-width="1.25"/>
<ellipse cx="373.10" cy="773.40" rx="9.5" ry="8.6" fill="none" stroke="#858585" stroke-width="1.25"/>
<circle cx="373.10" cy="772.10" r="4.4" fill="#f86060" stroke="#f04848" stroke-width="0.9"/>
<ellipse cx="395.80" cy="773.40" rx="9.5" ry="8.6" fill="none" stroke="#858585" stroke-width="1.25"/>
<circle cx="395.90" cy="773.10" r="4.4" fill="#5e5ef8" stroke="#4646ee" stroke-width="0.9"/>
<ellipse cx="439.40" cy="772.80" rx="9.5" ry="8.6" fill="none" stroke="#858585" stroke-width="1.25"/>
<ellipse cx="463.50" cy="772.80" rx="9.5" ry="8.6" fill="none" stroke="#858585" stroke-width="1.25"/>
<circle cx="461.50" cy="772.70" r="4.4" fill="#5cf05c" stroke="#3ce03c" stroke-width="0.9"/>
<ellipse cx="486.80" cy="772.80" rx="9.5" ry="8.6" fill="none" stroke="#858585" stroke-width="1.25"/>
<circle cx="488.70" cy="771.30" r="4.4" fill="#f86060" stroke="#f04848" stroke-width="0.9"/>
<ellipse cx="509.60" cy="772.80" rx="9.5" ry="8.6" fill="none" stroke="#858585" stroke-width="1.25"/>
<circle cx="510.30" cy="773.30" r="4.4" fill="#5e5ef8" stroke="#4646ee" stroke-width="0.9"/>
<circle cx="93.10" cy="1012.30" r="4.45" fill="#5cf05c" stroke="#3ce03c" stroke-width="0.9"/>
<circle cx="108.70" cy="1012.30" r="4.45" fill="#f86060" stroke="#f04848" stroke-width="0.9"/>
<circle cx="124.70" cy="1012.30" r="4.45" fill="#5cf05c" stroke="#3ce03c" stroke-width="0.9"/>
<circle cx="124.70" cy="1022.00" r="4.45" fill="#f86060" stroke="#f04848" stroke-width="0.9"/>
<circle cx="140.50" cy="1012.30" r="4.45" fill="#5e5ef8" stroke="#4646ee" stroke-width="0.9"/>
<circle cx="156.70" cy="1012.30" r="4.45" fill="#5cf05c" stroke="#3ce03c" stroke-width="0.9"/>
<circle cx="156.70" cy="1022.00" r="4.45" fill="#5e5ef8" stroke="#4646ee" stroke-width="0.9"/>
<circle cx="171.55" cy="1012.30" r="4.45" fill="#f86060" stroke="#f04848" stroke-width="0.9"/>
<circle cx="171.55" cy="1022.00" r="4.45" fill="#5e5ef8" stroke="#4646ee" stroke-width="0.9"/>
<circle cx="186.70" cy="1012.30" r="4.45" fill="#5cf05c" stroke="#3ce03c" stroke-width="0.9"/>
<circle cx="186.70" cy="1022.00" r="4.45" fill="#f86060" stroke="#f04848" stroke-width="0.9"/>
<circle cx="186.70" cy="1032.10" r="4.45" fill="#5e5ef8" stroke="#4646ee" stroke-width="0.9"/>
<circle cx="204.50" cy="1012.30" r="4.45" fill="#5cf05c" stroke="#3ce03c" stroke-width="0.9"/>
<circle cx="220.10" cy="1012.30" r="4.45" fill="#f86060" stroke="#f04848" stroke-width="0.9"/>
<circle cx="236.10" cy="1012.30" r="4.45" fill="#5cf05c" stroke="#3ce03c" stroke-width="0.9"/>
<circle cx="236.10" cy="1022.00" r="4.45" fill="#f86060" stroke="#f04848" stroke-width="0.9"/>
<circle cx="251.90" cy="1012.30" r="4.45" fill="#5e5ef8" stroke="#4646ee" stroke-width="0.9"/>
<circle cx="268.10" cy="1012.30" r="4.45" fill="#5cf05c" stroke="#3ce03c" stroke-width="0.9"/>
<circle cx="268.10" cy="1022.00" r="4.45" fill="#5e5ef8" stroke="#4646ee" stroke-width="0.9"/>
<circle cx="282.95" cy="1012.30" r="4.45" fill="#f86060" stroke="#f04848" stroke-width="0.9"/>
<circle cx="282.95" cy="1022.00" r="4.45" fill="#5e5ef8" stroke="#4646ee" stroke-width="0.9"/>
<circle cx="298.10" cy="1012.30" r="4.45" fill="#5cf05c" stroke="#3ce03c" stroke-width="0.9"/>
<circle cx="298.10" cy="1022.00" r="4.45" fill="#f86060" stroke="#f04848" stroke-width="0.9"/>
<circle cx="298.10" cy="1032.10" r="4.45" fill="#5e5ef8" stroke="#4646ee" stroke-width="0.9"/>
<circle cx="315.50" cy="1012.30" r="4.45" fill="#5cf05c" stroke="#3ce03c" stroke-width="0.9"/>
<circle cx="331.10" cy="1012.30" r="4.45" fill="#f86060" stroke="#f04848" stroke-width="0.9"/>
<circle cx="347.10" cy="1012.30" r="4.45" fill="#5cf05c" stroke="#3ce03c" stroke-width="0.9"/>
<circle cx="347.10" cy="1022.00" r="4.45" fill="#f86060" stroke="#f04848" stroke-width="0.9"/>
<circle cx="362.90" cy="1012.30" r="4.45" fill="#5e5ef8" stroke="#4646ee" stroke-width="0.9"/>
<circle cx="379.10" cy="1012.30" r="4.45" fill="#5cf05c" stroke="#3ce03c" stroke-width="0.9"/>
<circle cx="379.10" cy="1022.00" r="4.45" fill="#5e5ef8" stroke="#4646ee" stroke-width="0.9"/>
<circle cx="393.95" cy="1012.30" r="4.45" fill="#f86060" stroke="#f04848" stroke-width="0.9"/>
<circle cx="393.95" cy="1022.00" r="4.45" fill="#5e5ef8" stroke="#4646ee" stroke-width="0.9"/>
<circle cx="409.10" cy="1012.30" r="4.45" fill="#5cf05c" stroke="#3ce03c" stroke-width="0.9"/>
<circle cx="409.10" cy="1022.00" r="4.45" fill="#f86060" stroke="#f04848" stroke-width="0.9"/>
<circle cx="409.10" cy="1032.10" r="4.45" fill="#5e5ef8" stroke="#4646ee" stroke-width="0.9"/>
<circle cx="423.50" cy="1012.30" r="4.45" fill="#5cf05c" stroke="#3ce03c" stroke-width="0.9"/>
<circle cx="439.10" cy="1012.30" r="4.45" fill="#f86060" stroke="#f04848" stroke-width="0.9"/>
<circle cx="455.10" cy="1012.30" r="4.45" fill="#5cf05c" stroke="#3ce03c" stroke-width="0.9"/>
<circle cx="455.10" cy="1022.00" r="4.45" fill="#f86060" stroke="#f04848" stroke-width="0.9"/>
<circle cx="470.90" cy="1012.30" r="4.45" fill="#5e5ef8" stroke="#4646ee" stroke-width="0.9"/>
<circle cx="487.10" cy="1012.30" r="4.45" fill="#5cf05c" stroke="#3ce03c" stroke-width="0.9"/>
<circle cx="487.10" cy="1022.00" r="4.45" fill="#5e5ef8" stroke="#4646ee" stroke-width="0.9"/>
<circle cx="501.95" cy="1012.30" r="4.45" fill="#f86060" stroke="#f04848" stroke-width="0.9"/>
<circle cx="501.95" cy="1022.00" r="4.45" fill="#5e5ef8" stroke="#4646ee" stroke-width="0.9"/>
<circle cx="517.10" cy="1012.30" r="4.45" fill="#5cf05c" stroke="#3ce03c" stroke-width="0.9"/>
<circle cx="517.10" cy="1022.00" r="4.45" fill="#f86060" stroke="#f04848" stroke-width="0.9"/>
<circle cx="517.10" cy="1032.10" r="4.45" fill="#5e5ef8" stroke="#4646ee" stroke-width="0.9"/>
<text x="67.80" y="868.50" font-size="14.6" text-anchor="middle" transform="rotate(-90 67.80 868.50)" class="lt">Simulated constraint</text>
</svg>
</body></html>
